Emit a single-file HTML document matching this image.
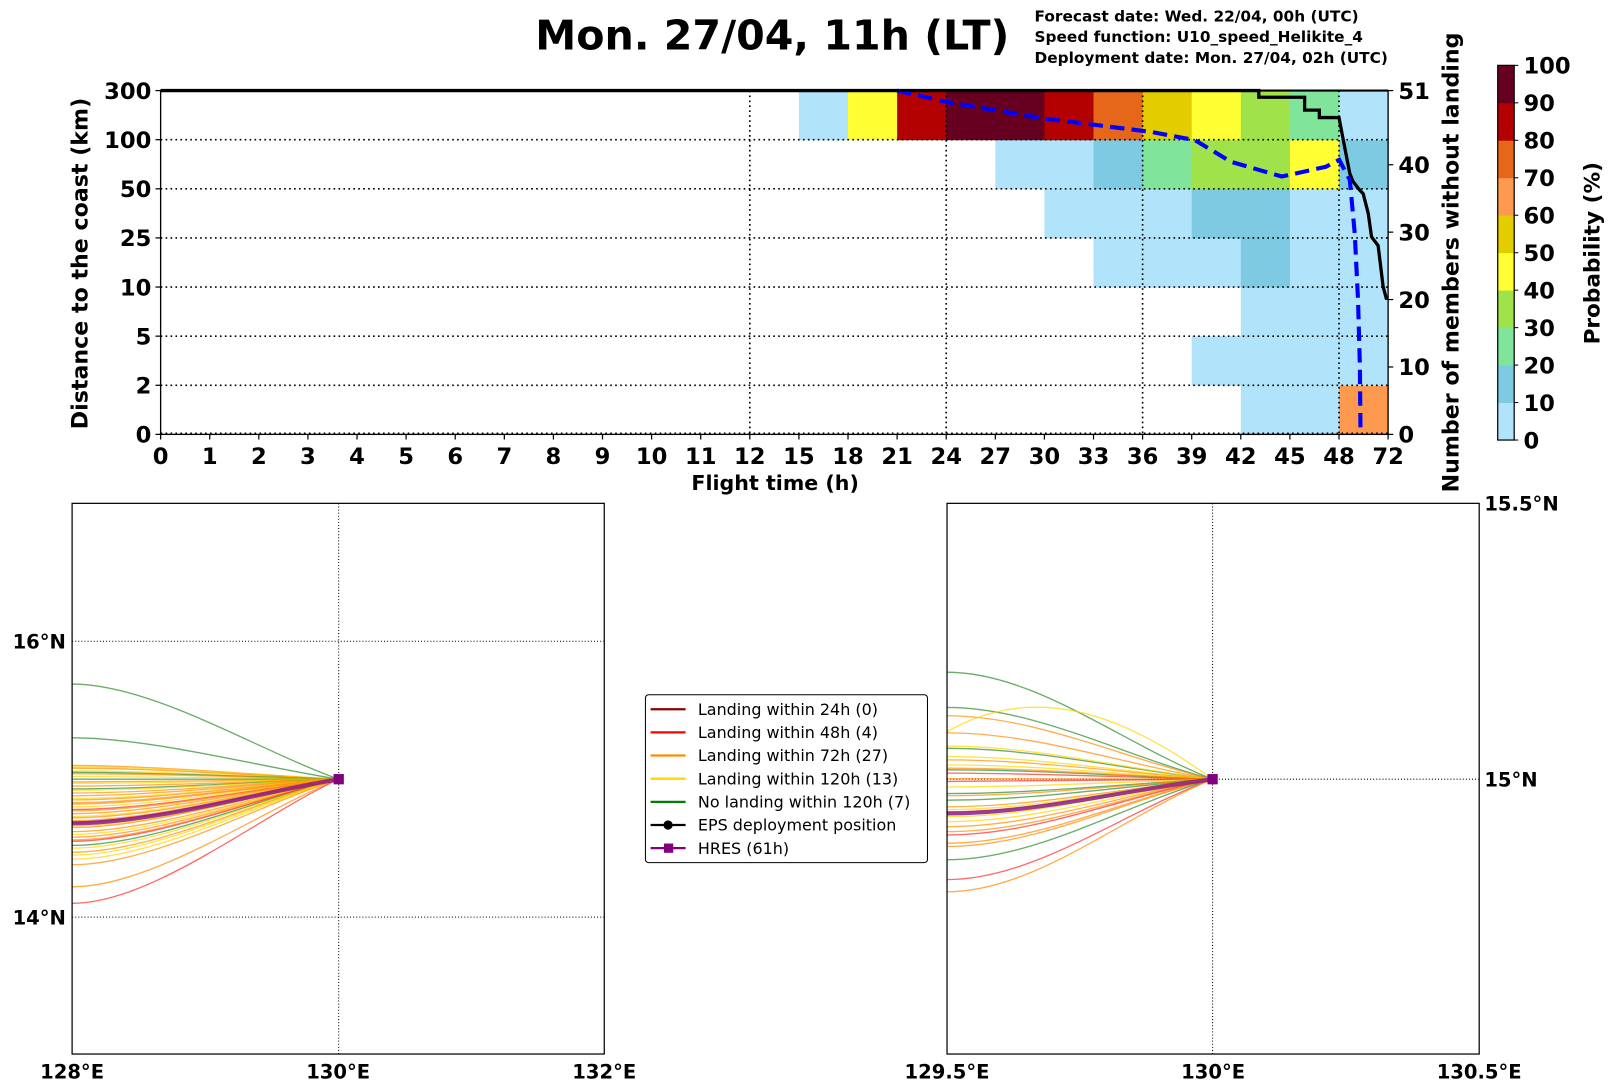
<!DOCTYPE html>
<html><head><meta charset="utf-8">
<style>
html,body{margin:0;padding:0;background:#fff;}
svg{display:block;font-family:"DejaVu Sans","Liberation Sans",sans-serif;}
text{font-weight:bold;fill:#000;}
</style></head>
<body>
<svg id="fig" width="1611" height="1088" viewBox="0 0 1565 1057" xmlns="http://www.w3.org/2000/svg">
<text x="520" y="48" font-size="40">Mon. 27/04, 11h (LT)</text>
<text x="1005" y="21" font-size="14.9">Forecast date: Wed. 22/04, 00h (UTC)</text>
<text x="1005" y="41" font-size="14.9">Speed function: U10_speed_Helikite_4</text>
<text x="1005" y="61" font-size="14.9">Deployment date: Mon. 27/04, 02h (UTC)</text>
<g id="topchart"></g>
<g id="cbar"></g>
<g id="maps"></g>
<g id="legend"></g>
</svg>
<script>
// ---------- data ----------
const xTicks = [0,1,2,3,4,5,6,7,8,9,10,11,12,15,18,21,24,27,30,33,36,39,42,45,48,72];
const yTicks = ["0","2","5","10","25","50","100","300"];
const rightTicks = [0,10,20,30,40,51];
const cbTicks = [0,10,20,30,40,50,60,70,80,90,100];
const cbColors = ["#b1e4fb","#7ecae2","#80e59b","#9fe24a","#ffff33","#e3cc00","#fe9a4f","#e66719","#b30000","#670020"];
const colStarts = [15,18,21,24,27,30,33,36,39,42,45,48];
const colEnds   = [18,21,24,27,30,33,36,39,42,45,48,72];
// probability (%) per row (row 0 = 0-2 km ... row 6 = 100-300 km); -1 = none
const prob_row0 = [-1,-1,-1,-1,-1,-1,-1,-1,-1,5,5,65];
const prob_row1 = [-1,-1,-1,-1,-1,-1,-1,-1,5,5,5,5];
const prob_row2 = [-1,-1,-1,-1,-1,-1,-1,-1,-1,5,5,5];
const prob_row3 = [-1,-1,-1,-1,-1,-1,5,5,5,15,5,5];
const prob_row4 = [-1,-1,-1,-1,-1,5,5,5,15,15,5,5];
const prob_row5 = [-1,-1,-1,-1,5,5,15,25,35,35,45,15];
const prob_row6 = [5,45,85,95,95,85,75,55,45,35,25,5];
const membersHours = [0,43.1,43.1,45.9,45.9,46.8,46.8,48,49.8,53.3,54.9,58.2,59.8,62.3,63.9,67.1,69.6,71.1,72];
const membersVals  = [51,51,50,50,48.1,48.1,47,47,44.1,38.7,37.5,36.2,35.7,32.8,29.3,28,21.9,20.2,20.2];
const distHours = [21,24,30,36.5,39.2,41.4,44.5,47.2,48.1,53.3,55.7,57.3,58.2,58.5];
const distBand  = [7,6.77,6.43,6.16,5.99,5.55,5.25,5.45,5.59,5.18,4.09,2.73,1.38,0];
// trajectories: start latitude at west edge of map, category (0=24h,1=48h,2=72h,3=120h,4=none)
const leftLat = [15.69,15.30,15.10,15.09,15.08,15.06,15.05,15.04,15.02,15.0,14.98,14.97,14.95,14.93,14.92,14.9,14.88,14.86,14.85,14.83,14.82,14.8,14.78,14.77,14.75,14.73,14.72,14.7,14.69,14.68,14.66,14.65,14.62,14.6,14.58,14.56,14.55,14.52,14.5,14.47,14.45,14.42,14.38,14.22,14.10];
const leftCat = [4,4,2,3,2,3,4,2,3,4,2,3,2,4,3,2,2,3,2,2,2,3,1,2,2,3,2,2,1,2,3,2,2,3,2,2,1,4,3,2,3,3,2,2,1];
const rightLat = [15.194,15.130,15.115,15.086,15.084,15.056,15.041,15.035,15.026,15.017,15.011,15.001,14.996,14.986,14.974,14.962,14.950,14.941,14.932,14.923,14.914,14.905,14.899,14.884,14.878,14.854,14.818,14.796,15.06,15.02,14.97,14.945];
const rightCat = [4,4,2,3,2,4,3,2,3,4,1,2,1,3,4,4,2,2,3,3,2,2,1,2,2,4,1,2,3,2,2,3];
const rightBulge = [0,0,0,0.07,0,0,0,0,0,0,0,0,0,0,0,0,0,0,0,0,0,0,0,0,0,0,0,0,0,0,0,0];
const hresLeft = 14.68, hresRight = 14.938;
const catColors = ["#8b0000","#ff2a2a","#ff8c00","#ffd700","#2a8a2a"];
const legendLabels = ["Landing within 24h (0)","Landing within 48h (4)","Landing within 72h (27)","Landing within 120h (13)","No landing within 120h (7)","EPS deployment position","HRES (61h)"];

// ---------- helpers ----------
const NS="http://www.w3.org/2000/svg";
function mk(tag,attrs,parent,txt){const e=document.createElementNS(NS,tag);for(const k in attrs)e.setAttribute(k,attrs[k]);if(txt!==undefined)e.textContent=txt;parent.appendChild(e);return e;}
const PL=156,PR=1348.5,PT=88,PB=422;
const step=(PR-PL)/25;
function hourIdx(h){if(h<=12)return h;if(h<=48)return 12+(h-12)/3;return 24+(h-48)/24;}
function xH(h){return PL+hourIdx(h)*step;}
const band=(PB-PT)/7;
function yB(b){return PB-b*band;}
function yM(m){return PB-m*(PB-PT)/51;}
function colorFor(p){return cbColors[Math.min(9,Math.floor(p/10))];}

// ---------- top chart ----------
const tc=document.getElementById('topchart');
const rows=[prob_row0,prob_row1,prob_row2,prob_row3,prob_row4,prob_row5,prob_row6];
rows.forEach((row,r)=>{row.forEach((p,c)=>{if(p<0)return;
  const x0=xH(colStarts[c]),x1=xH(colEnds[c]);
  const rc=mk('rect',{x:x0,y:yB(r+1),width:x1-x0+0.5,height:band+0.5,fill:colorFor(p)},tc);
  
  
});});
for(let i=1;i<7;i++){const g=mk('line',{x1:PL,x2:PR,y1:yB(i),y2:yB(i),stroke:'#000','stroke-width':1.6,'stroke-dasharray':'1.6 3.2'},tc);}
mk('line',{x1:PL,x2:PR,y1:PB-1,y2:PB-1,stroke:'#000','stroke-width':1.6,'stroke-dasharray':'1.6 3.2'},tc);
[12,24,36,48].forEach(h=>{const g=mk('line',{x1:xH(h),x2:xH(h),y1:PT,y2:PB,stroke:'#000','stroke-width':1.6,'stroke-dasharray':'1.6 3.2'},tc);});
let d='';membersHours.forEach((h,i)=>{d+=(i?'L':'M')+xH(h).toFixed(1)+' '+yM(membersVals[i]).toFixed(1)+' ';});
const ml=mk('path',{d:d,fill:'none',stroke:'#000','stroke-width':3.2},tc);

d='';distHours.forEach((h,i)=>{d+=(i?'L':'M')+xH(h).toFixed(1)+' '+yB(distBand[i]).toFixed(1)+' ';});
const dl=mk('path',{d:d,fill:'none',stroke:'#0000ff','stroke-width':4,'stroke-dasharray':'14 7'},tc);

const fr=mk('rect',{x:PL,y:PT,width:PR-PL,height:PB-PT,fill:'none',stroke:'#000','stroke-width':1.3},tc);

mk('line',{x1:PL,x2:PR,y1:PT,y2:PT,stroke:'#000','stroke-width':2},tc);
xTicks.forEach((t,i)=>{const x=PL+i*step;mk('line',{x1:x,x2:x,y1:PB,y2:PB+5,stroke:'#000','stroke-width':1.2},tc);
  const tx=mk('text',{x:x,y:451,'font-size':22,'text-anchor':'middle'},tc,String(t));});
yTicks.forEach((t,i)=>{const y=yB(i);mk('line',{x1:PL-5,x2:PL,y1:y,y2:y,stroke:'#000','stroke-width':1.2},tc);
  const tx=mk('text',{x:PL-9,y:y+8,'font-size':22,'text-anchor':'end'},tc,t);});
rightTicks.forEach(t=>{const y=yM(t);mk('line',{x1:PR,x2:PR+5,y1:y,y2:y,stroke:'#000','stroke-width':1.2},tc);
  const tx=mk('text',{x:PR+10,y:y+8,'font-size':22},tc,String(t));});
let t1=mk('text',{x:753,y:476,'font-size':20,'text-anchor':'middle'},tc,'Flight time (h)');
t1=mk('text',{x:0,y:0,'font-size':21.5,'text-anchor':'middle',transform:'translate(85,256) rotate(-90)'},tc,'Distance to the coast (km)');
t1=mk('text',{x:0,y:0,'font-size':21.5,'text-anchor':'middle',transform:'translate(1417,255) rotate(-90)'},tc,'Number of members without landing');

// ---------- colorbar ----------
const cb=document.getElementById('cbar');
const CT=63.5,CB=427.5,CX=1455,CW=16;
function yC(v){return CB-v/100*(CB-CT);}
cbColors.forEach((c,i)=>{const r=mk('rect',{x:CX,y:yC((i+1)*10),width:CW,height:(CB-CT)/10+0.4,fill:c},cb);});
mk('rect',{x:CX,y:CT,width:CW,height:CB-CT,fill:'none',stroke:'#000','stroke-width':1.2},cb);
cbTicks.forEach(t=>{const y=yC(t);mk('line',{x1:CX+CW,x2:CX+CW+4,y1:y,y2:y,stroke:'#000'},cb);
  const tx=mk('text',{x:CX+CW+9,y:y+8,'font-size':22},cb,String(t));});
t1=mk('text',{x:0,y:0,'font-size':21,'text-anchor':'middle',transform:'translate(1554,246) rotate(-90)'},cb,'Probability (%)');

// ---------- maps ----------
const maps=document.getElementById('maps');
function drawMap(cfg){
  const g=mk('g',{},maps);
  const xL=lon=>cfg.x0+(lon-cfg.lon0)*cfg.sx, yL=lat=>757-(lat-15)*cfg.sy;
  cfg.hgrid.forEach(l=>mk('line',{x1:cfg.x0,x2:cfg.x0+517,y1:yL(l),y2:yL(l),stroke:'#000','stroke-width':1,'stroke-dasharray':'1 2'},g));
  mk('line',{x1:xL(130),x2:xL(130),y1:489,y2:1024,stroke:'#000','stroke-width':1,'stroke-dasharray':'1 2'},g);
  const ex=xL(130),ey=yL(15),w=ex-cfg.x0;
  cfg.lats.forEach((lat,i)=>{const y0=yL(lat);const bl=(cfg.bulge?cfg.bulge[i]:0)*cfg.sy;
    const p=mk('path',{d:`M${cfg.x0} ${y0} C${cfg.x0+w*cfg.c1} ${y0-bl*1.3}, ${cfg.x0+w*cfg.c2} ${ey+(y0-ey)*cfg.k-bl*1.3}, ${ex} ${ey}`,fill:'none',stroke:catColors[cfg.cats[i]],'stroke-width':1.3,opacity:0.7},g);
    });
  const y0=yL(cfg.hres);
  const hp=mk('path',{d:`M${cfg.x0} ${y0} C${cfg.x0+w*cfg.c1} ${y0}, ${cfg.x0+w*cfg.c2} ${ey+(y0-ey)*cfg.k}, ${ex} ${ey}`,fill:'none',stroke:'#8b1a8b','stroke-width':4,opacity:0.85},g);
  
  const m=mk('rect',{x:ex-5,y:ey-5,width:10,height:10,fill:'#800080'},g);
  mk('rect',{x:cfg.x0,y:489,width:517,height:535,fill:'none',stroke:'#000','stroke-width':1.2},g);
  cfg.lonLabels.forEach((s,i)=>{const t=mk('text',{x:cfg.x0+i*258.5,y:1048,'font-size':19,'text-anchor':'middle'},g,s);});
  cfg.latLabels.forEach(l=>{const t=mk('text',{x:cfg.latX,y:yL(l[0])+7,'font-size':19,'text-anchor':cfg.latAnchor},g,l[1]);});
}
drawMap({name:'left-map',x0:70,lon0:128,sx:129.5,sy:134,hgrid:[16,14],lats:leftLat,cats:leftCat,hres:hresLeft,c1:0.3,c2:0.7,k:0.3,
  lonLabels:['128°E','130°E','132°E'],latLabels:[[16,'16°N'],[14,'14°N']],latX:64,latAnchor:'end'});
drawMap({name:'right-map',x0:920,lon0:129.5,sx:516,sy:536,hgrid:[15],lats:rightLat,cats:rightCat,bulge:rightBulge,hres:hresRight,c1:0.33,c2:0.66,k:0.33,
  lonLabels:['129.5°E','130°E','130.5°E'],latLabels:[[15.5,'15.5°N'],[15,'15°N']],latX:1442,latAnchor:'start'});

// ---------- legend ----------
const lg=document.getElementById('legend');
const lb=mk('rect',{x:627,y:675,width:274,height:163,rx:3,fill:'#fff',stroke:'#000','stroke-width':1},lg);

const legColors=["#8b0000","#ff0000","#ff8c00","#ffd700","#008000","#000","#800080"];
legendLabels.forEach((s,i)=>{const y=689+i*22.5;
  const g=mk('g',{},lg);
  mk('line',{x1:632,x2:666,y1:y,y2:y,stroke:legColors[i],'stroke-width':2.2},g);
  if(i==5)mk('circle',{cx:649,cy:y,r:4.5,fill:'#000'},g);
  if(i==6)mk('rect',{x:645,y:y-4.5,width:9,height:9,fill:'#800080'},g);
  mk('text',{x:678,y:y+5.5,'font-size':15.5,style:'font-weight:normal'},g,s);
});
</script>
</body></html>
